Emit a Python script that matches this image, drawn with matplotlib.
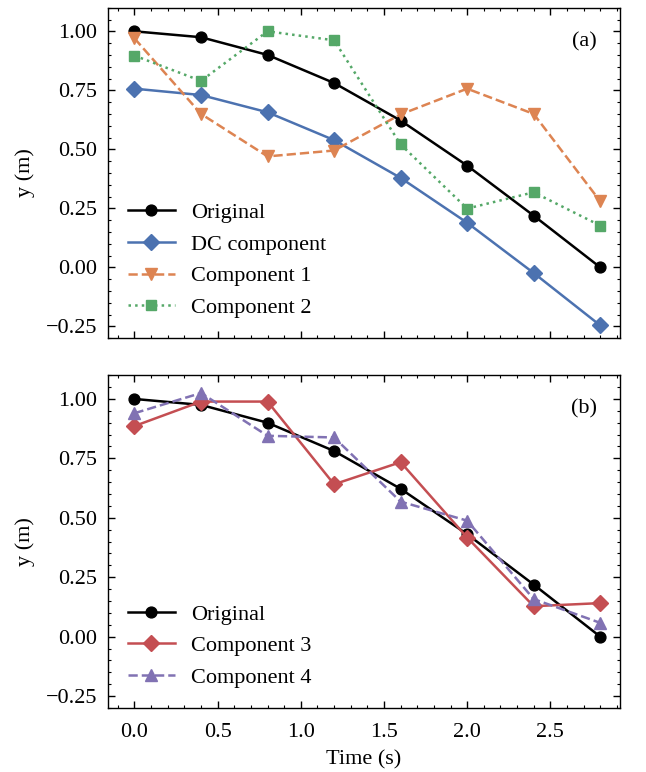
import matplotlib.pyplot as plt
from matplotlib.ticker import AutoMinorLocator, FuncFormatter

# Datos
t = [0.0, 0.4, 0.8, 1.2, 1.6, 2.0, 2.4, 2.8]
original = [1.0, 0.975, 0.90, 0.781, 0.622, 0.431, 0.219, 0.0]
dc = [0.757, 0.730, 0.657, 0.539, 0.379, 0.189, -0.024, -0.246]
comp1 = [0.97, 0.65, 0.47, 0.495, 0.648, 0.757, 0.65, 0.28]
comp2 = [0.897, 0.79, 1.0, 0.962, 0.521, 0.249, 0.318, 0.177]
comp3 = [0.886, 0.989, 0.989, 0.641, 0.734, 0.417, 0.128, 0.141]
comp4 = [0.94, 1.025, 0.845, 0.838, 0.568, 0.488, 0.158, 0.058]

plt.rcParams['font.family'] = ['Liberation Serif', 'DejaVu Serif']
plt.rcParams['mathtext.fontset'] = 'stix'
plt.rcParams['font.size'] = 16

fig = plt.figure(figsize=(6.46, 7.72), dpi=100)
ax1 = fig.add_axes([0.167, 0.562, 0.793, 0.428])
ax2 = fig.add_axes([0.167, 0.083, 0.793, 0.431])

lw = 1.8

# Panel (a)
ax1.plot(t, original, '-o', color='black', lw=lw, ms=7.8, label='Original')
ax1.plot(t, dc, '-D', color='#4C72B0', lw=lw, ms=8.5, label='DC component')
ax1.plot(t, comp1, '--v', color='#DD8452', lw=lw, ms=9, label='Component 1')
ax1.plot(t, comp2, ':s', color='#55A868', lw=lw, ms=7, label='Component 2')
ax1.text(0.955, 0.897, '(a)', transform=ax1.transAxes, ha='right', va='center')

# Panel (b)
ax2.plot(t, original, '-o', color='black', lw=lw, ms=7.8, label='Original')
ax2.plot(t, comp3, '-D', color='#C44E52', lw=lw, ms=8.5, label='Component 3')
ax2.plot(t, comp4, '--^', color='#8172B3', lw=lw, ms=9, label='Component 4')
ax2.text(0.955, 0.9, '(b)', transform=ax2.transAxes, ha='right', va='center')

fmt = FuncFormatter(lambda v, p: ('%.2f' % v).replace('-', '\u2212'))

for ax in (ax1, ax2):
    ax.set_xlim(-0.16, 2.92)
    ax.set_ylim(-0.3, 1.1)
    ax.set_xticks([0.0, 0.5, 1.0, 1.5, 2.0, 2.5])
    ax.set_yticks([-0.25, 0.0, 0.25, 0.5, 0.75, 1.0])
    ax.yaxis.set_major_formatter(fmt)
    ax.xaxis.set_minor_locator(AutoMinorLocator(5))
    ax.yaxis.set_minor_locator(AutoMinorLocator(5))
    ax.tick_params(which='both', direction='in', top=True, right=True)
    ax.tick_params(which='major', length=5, width=1)
    ax.tick_params(which='minor', length=2.5, width=0.8)
    ax.tick_params(axis='x', pad=11)
    ax.tick_params(axis='y', pad=7.5)
    ax.set_ylabel('y (m)', labelpad=8)
    for s in ax.spines.values():
        s.set_linewidth(1)
    ax.legend(loc='lower left', frameon=False, handlelength=2.1, handletextpad=0.75)

ax1.tick_params(labelbottom=False)
ax2.set_xlabel('Time (s)', labelpad=6)

fig.savefig('out.png', dpi=100)
